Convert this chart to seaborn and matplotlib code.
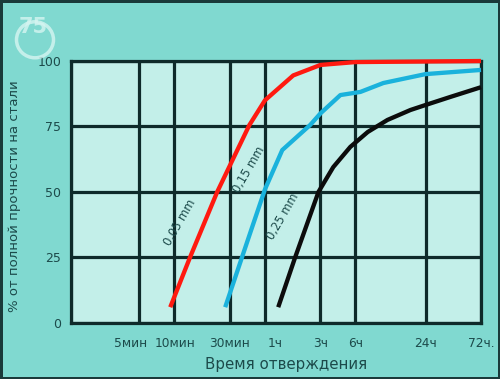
import matplotlib
matplotlib.use("Agg")
import matplotlib.pyplot as plt
import matplotlib.transforms as mtrans
import pandas as pd
import seaborn as sns
from matplotlib.patches import Ellipse

# time in minutes, strength in %
t_005 = [9.2, 13.6, 23.3, 44, 60, 105, 180, 360, 4320]
v_005 = [6, 25, 50, 75.5, 85, 94.5, 98.5, 99.6, 100]

t_015 = [27.3, 44.9, 60, 84.5, 147, 180, 267, 397, 625, 1440, 4320]
v_015 = [6, 34.5, 51, 66, 75.6, 80, 87, 88.2, 91.6, 95, 96.6]

t_025 = [78, 109, 173, 232, 325, 459, 678, 1069, 1440, 2360, 4320]
v_025 = [6, 25, 50, 59.5, 67.2, 72.9, 77.5, 81.3, 83.2, 86.3, 90]

tick_times = [5, 10, 30, 60, 180, 360, 1440, 4320]
tick_labels = ["5мин", "10мин", "30мин", "1ч", "3ч", "6ч", "24ч", "72ч."]
y_ticks = [0, 25, 50, 75, 100]

series = ["0,05 mm", "0,15 mm", "0,25 mm"]
colors = ["#ff1a10", "#1ab2dc", "#0c0c0c"]

df = pd.concat([
    pd.DataFrame({"t": t_005, "v": v_005, "s": series[0]}),
    pd.DataFrame({"t": t_015, "v": v_015, "s": series[1]}),
    pd.DataFrame({"t": t_025, "v": v_025, "s": series[2]}),
])

sns.set_style("white")
plt.rcParams["font.family"] = ["DejaVu Sans"]

dark = "#0e2a2a"
txt = "#1c4a4a"

fig = plt.figure(figsize=(5, 3.79), dpi=100)
fig.patch.set_facecolor("#80d9d0")
fig.patch.set_edgecolor("#1a3a3a")
fig.patch.set_linewidth(2.5)
ax = fig.add_axes([0.142, 0.148, 0.82, 0.691])
ax.set_facecolor("#c3efe9")

sns.lineplot(data=df, x="t", y="v", hue="s", palette=dict(zip(series, colors)),
             estimator=None, sort=True, linewidth=3.1, legend=False, ax=ax,
             zorder=5)
for ln in ax.lines:
    ln.set_clip_on(False)
    ln.set_solid_capstyle("butt")

ax.set_xscale("log")
xmin = 1.29
ax.set_xlim(xmin, 4320)
ax.set_ylim(0, 100)
ax.minorticks_off()
ax.set_xticks([xmin] + tick_times)
ax.set_xticklabels([""] + tick_labels, fontsize=8.8, color=txt)
ax.set_yticks(y_ticks)
ax.set_yticklabels([str(v) for v in y_ticks], fontsize=9, color=txt)
ax.tick_params(axis="x", direction="out", length=7, width=2.3,
               color=dark, pad=3)
ax.tick_params(axis="y", direction="out", length=5, width=2.3,
               color=dark, pad=2)

# crowded labels are nudged sideways, as in the original
shifts = {"5мин": -9, "10мин": 1, "1ч": 10}
for lab in ax.get_xticklabels():
    dx = shifts.get(lab.get_text(), 0)
    if dx:
        lab.set_transform(lab.get_transform()
                          + mtrans.ScaledTranslation(dx / 100, 0, fig.dpi_scale_trans))

ax.grid(True, color=dark, linewidth=2.3)
ax.set_axisbelow(True)
for sp in ax.spines.values():
    sp.set_visible(True)
    sp.set_color(dark)
    sp.set_linewidth(2.3)

ax.set_xlabel("Время отверждения", fontsize=10.8, color=txt)
ax.xaxis.set_label_coords(0.524, -0.13)
ax.set_ylabel("% от полной прочности на стали", fontsize=9.5, color=txt)
ax.yaxis.set_label_coords(-0.122, 0.485)

# curve labels
ax.text(11.2, 38.5, series[0], rotation=60, fontsize=8.3, color=txt,
        ha="center", va="center", zorder=6)
ax.text(44, 58.4, series[1], rotation=60, fontsize=8.3, color=txt,
        ha="center", va="center", zorder=6)
ax.text(85, 40.5, series[2], rotation=60, fontsize=8.3, color=txt,
        ha="center", va="center", zorder=6)

# faint logo in the corner
fig.patches.append(Ellipse((0.07, 0.895), 0.074, 0.095, transform=fig.transFigure,
                           fill=False, edgecolor="#d6f5f1", linewidth=2.5,
                           alpha=0.8))
fig.text(0.066, 0.93, "75", fontsize=15, fontweight="bold", color="#d6f5f1",
         ha="center", va="center", alpha=0.8)

fig.savefig("out.png", dpi=100, facecolor=fig.get_facecolor(),
            edgecolor=fig.get_edgecolor())
